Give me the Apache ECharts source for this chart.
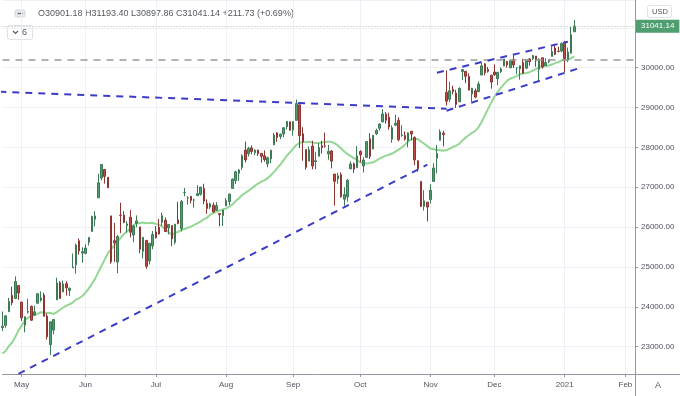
<!DOCTYPE html>
<html><head><meta charset="utf-8">
<script src="https://cdn.jsdelivr.net/npm/echarts@6/dist/echarts.min.js"></script>
<style>html,body{margin:0;padding:0;background:#fff}#c{width:680px;height:396px}</style>
</head><body><div id="c"></div>
<script>
// ---- trading days shown (Apr 23 2020 .. Jan 7 2021) ----
const dates = [
'2020-04-23','2020-04-24','2020-04-27','2020-04-28','2020-04-29','2020-04-30',
'2020-05-01','2020-05-04','2020-05-05','2020-05-06','2020-05-07','2020-05-08','2020-05-11','2020-05-12','2020-05-13','2020-05-14','2020-05-15','2020-05-18','2020-05-19','2020-05-20','2020-05-21','2020-05-22','2020-05-26','2020-05-27','2020-05-28','2020-05-29',
'2020-06-01','2020-06-02','2020-06-03','2020-06-04','2020-06-05','2020-06-08','2020-06-09','2020-06-10','2020-06-11','2020-06-12','2020-06-15','2020-06-16','2020-06-17','2020-06-18','2020-06-19','2020-06-22','2020-06-23','2020-06-24','2020-06-25','2020-06-26','2020-06-29','2020-06-30',
'2020-07-01','2020-07-02','2020-07-06','2020-07-07','2020-07-08','2020-07-09','2020-07-10','2020-07-13','2020-07-14','2020-07-15','2020-07-16','2020-07-17','2020-07-20','2020-07-21','2020-07-22','2020-07-23','2020-07-24','2020-07-27','2020-07-28','2020-07-29','2020-07-30','2020-07-31',
'2020-08-03','2020-08-04','2020-08-05','2020-08-06','2020-08-07','2020-08-10','2020-08-11','2020-08-12','2020-08-13','2020-08-14','2020-08-17','2020-08-18','2020-08-19','2020-08-20','2020-08-21','2020-08-24','2020-08-25','2020-08-26','2020-08-27','2020-08-28','2020-08-31',
'2020-09-01','2020-09-02','2020-09-03','2020-09-04','2020-09-08','2020-09-09','2020-09-10','2020-09-11','2020-09-14','2020-09-15','2020-09-16','2020-09-17','2020-09-18','2020-09-21','2020-09-22','2020-09-23','2020-09-24','2020-09-25','2020-09-28','2020-09-29','2020-09-30',
'2020-10-01','2020-10-02','2020-10-05','2020-10-06','2020-10-07','2020-10-08','2020-10-09','2020-10-12','2020-10-13','2020-10-14','2020-10-15','2020-10-16','2020-10-19','2020-10-20','2020-10-21','2020-10-22','2020-10-23','2020-10-26','2020-10-27','2020-10-28','2020-10-29','2020-10-30',
'2020-11-02','2020-11-03','2020-11-04','2020-11-05','2020-11-06','2020-11-09','2020-11-10','2020-11-11','2020-11-12','2020-11-13','2020-11-16','2020-11-17','2020-11-18','2020-11-19','2020-11-20','2020-11-23','2020-11-24','2020-11-25','2020-11-27','2020-11-30',
'2020-12-01','2020-12-02','2020-12-03','2020-12-04','2020-12-07','2020-12-08','2020-12-09','2020-12-10','2020-12-11','2020-12-14','2020-12-15','2020-12-16','2020-12-17','2020-12-18','2020-12-21','2020-12-22','2020-12-23','2020-12-24','2020-12-28','2020-12-29','2020-12-30','2020-12-31',
'2021-01-04','2021-01-05','2021-01-06','2021-01-07'];
// empty future slots on the time scale
const futureDates = ['2021-01-08','2021-01-11','2021-01-12','2021-01-13','2021-01-14','2021-01-15','2021-01-19','2021-01-20','2021-01-21','2021-01-22','2021-01-25','2021-01-26','2021-01-27','2021-01-28','2021-01-29','2021-02-01','2021-02-02','2021-02-03','2021-02-04'];

const open = [23475,23535,23876,24288,24207,24534,
24120,23544,23868,24011,23790,24090,24168,24294,23768,23050,23415,24174,24607,24372,24580,24409,24977,25055,25657,25350,
25342,25620,25892,26198,26736,27233,27447,27251,26282,25659,25123,26297,26300,26036,26248,25800,26092,26005,25393,25667,25153,25529,
25880,25998,26122,26171,25978,26040,25619,26182,25964,26867,26733,26773,26677,26790,26824,26971,26595,26502,26550,26422,26343,26291,
26532,26640,26972,27168,27351,27500,27933,27843,27988,27866,27933,27849,27788,27587,27711,28063,28363,28274,28338,28522,28643,
28439,28679,29068,28341,27945,27656,28032,27641,27778,28042,28034,27836,27910,27331,27208,27317,26700,26761,27461,27588,27491,
27898,27536,27750,28214,27959,28344,28481,28638,28835,28758,28204,28558,28678,28293,28296,28166,28405,28247,27664,27145,26516,26626,
26691,27146,27732,28178,28358,29380,29207,29460,29364,29144,29902,29910,29780,29341,29421,29398,29815,30096,29954,29812,
29891,29725,29900,30043,30150,29997,30207,29996,29968,30128,29988,30218,30223,30292,29960,30249,30054,30155,30283,30492,30415,30418,
30627,30204,30362,30901.18];
const high = [23883,23783,24226,24505,24764,24534,
24120,23756,24202,24032,24030,24334,24385,24353,23829,23626,23685,24730,24645,24658,24643,24485,25339,25585,25714,25493,
25572,25745,26286,26396,27339,27581,27447,27251,26282,26105,25805,26611,26400,26151,26429,26058,26295,26005,25747,25667,25596,25904,
26025,26204,26365,26244,26068,26040,26079,26636,26680,26983,26775,26779,26716,27054,27005,27087,26696,26617,26618,26628,26343,26429,
26727,26840,27225,27416,27455,27829,28146,28018,28050,27950,27943,27849,27924,27767,27939,28364,28385,28346,28502,28660,28643,
28659,29199,29068,28507,27945,28025,28166,27890,28108,28167,28371,28063,27932,27331,27365,27371,27000,27211,27649,27621,28029,
27925,27753,28162,28354,28303,28467,28604,28958,28882,28869,28552,28822,28755,28557,28400,28377,28410,28280,27683,27145,26928,26626,
27075,27602,28062,28452,28416,29933,29645,29551,29444,29509,29964,29910,29858,29494,29477,29657,30117,30116,30018,29813,
30082,29883,30006,30219,30174,30181,30319,30008,30048,30225,30200,30244,30322,30292,30232,30250,30237,30209,30526,30600,30525,30637,
30674,30504,31022,31193.40];
const low = [23391,23475,23876,24037,24207,24176,
23643,23361,23831,23652,23790,24090,24128,23763,23180,22790,23310,24174,24203,24372,24282,24275,24977,24833,25310,25106,
25316,25539,25892,26017,26736,27173,27092,26978,25082,25128,24843,25849,26097,25859,25745,25623,25995,25344,25214,24956,25064,25445,
25711,25816,26031,25886,25818,25524,25563,26072,25892,26773,26566,26597,26487,26790,26790,26578,26333,26449,26360,26407,26019,26029,
26532,26553,26972,27080,27160,27438,27625,27772,27832,27807,27785,27617,27641,27502,27605,28063,28141,28206,28249,28449,28421,
28295,28679,27990,27665,27441,27656,27450,27452,27778,27846,27994,27689,27473,26537,27087,26736,26537,26639,27461,27356,27491,
27624,27371,27750,27709,27959,28307,28420,28638,28597,28444,28116,28535,28152,28268,28171,28004,28178,27554,27390,26502,26417,26143,
26595,27146,27349,28178,28030,29050,29141,29331,28990,29144,29692,29609,29432,29143,29232,29398,29815,29807,29876,29472,
29792,29560,29867,30043,30003,29993,29993,29839,29700,29852,29963,30051,30190,30025,29666,29975,30054,30115,30283,30315,30385,30388,
29882,30141,30362,30897.86];
const close = [23515,23775,24134,24101,24634,24346,
23724,23750,23883,23664,23876,24331,24221,23764,23248,23625,23685,24597,24207,24576,24474,24465,24995,25548,25401,25383,
25475,25742,26270,26282,27111,27572,27273,26990,25128,25606,25763,26290,26120,26080,25871,26025,26156,25445,25745,25016,25596,25813,
25735,25827,26287,25890,26067,25706,26075,26086,26643,26870,26735,26672,26681,26840,27005,26652,26470,26585,26379,26540,26314,26428,
26664,26828,27201,27387,27433,27791,27687,27977,27896,27931,27844,27778,27692,27739,27930,28308,28248,28332,28492,28653,28430,
28645,29100,28292,28133,27500,27940,27535,27666,27993,27995,28032,27902,27657,27148,27288,26763,26815,27174,27584,27452,27782,
27817,27683,28149,27773,28303,28426,28587,28838,28680,28514,28494,28606,28195,28309,28211,28364,28336,27685,27463,26520,26659,26502,
26925,27481,27848,28390,28323,29158,29421,29398,29080,29480,29950,29784,29438,29483,29263,29592,30046,29873,29910,29639,
29824,29884,29970,30218,30070,30174,30068,29999,30046,29861,30200,30155,30304,30179,30216,30015,30129,30200,30404,30336,30409,30606,
30224,30392,30829,31041.14];
// moving average line (read per bar)
const ma = [22831,22892,23017,23105,23241,23411,23527,23662,23722,23772,23794,23825,23867,23857,23845,23849,23821,23868,23928,23983,
24031,24065,24108,24181,24219,24271,24358,24458,24577,24708,24870,25032,25185,25346,25440,25539,25643,25728,25823,25898,
25968,26046,26104,26099,26116,26098,26104,26108,26081,26058,26017,25933,25873,25808,25856,25880,25924,25953,25983,26013,
26054,26094,26137,26197,26233,26312,26351,26387,26416,26446,26465,26512,26569,26653,26721,26806,26858,26913,26972,27034,
27093,27140,27174,27228,27301,27387,27481,27570,27679,27791,27879,27970,28065,28110,28145,28130,28143,28121,28109,28113,
28120,28133,28143,28139,28100,28049,27975,27899,27833,27780,27731,27688,27623,27593,27594,27607,27626,27670,27716,27758,
27793,27817,27846,27894,27946,27997,28070,28147,28205,28210,28211,28148,28090,28031,27970,27955,27932,27930,27917,27933,
27970,28014,28044,28087,28175,28249,28310,28366,28413,28508,28637,28805,28967,29124,29269,29389,29495,29587,29674,29725,
29757,29787,29836,29855,29867,29886,29929,29964,30011,30033,30037,30053,30078,30113,30142,30178,30191,30199,30237,30281];

// drawn trend lines: [bar index, price]
const resistanceLine = [[-0.78, 29398], [139, 28971]];
const supportLine = [[5, 22320], [133, 27566]];
const channelTop = [[136, 29875], [177, 30652]];
const channelBottom = [[139, 28921], [181, 30000]];
const horizontalLevel = 30190;
const lastPrice = 31041.14;

const monthLabels = {'2020-05-01':'May','2020-06-01':'Jun','2020-07-01':'Jul','2020-08-03':'Aug','2020-09-01':'Sep',
  '2020-10-01':'Oct','2020-11-02':'Nov','2020-12-01':'Dec','2021-01-04':'2021','2021-02-01':'Feb'};
const legendText = 'O30901.18 H31193.40 L30897.86 C31041.14 +211.73 (+0.69%)';

const FONT = 'Liberation Sans, Arial, sans-serif';
const allDates = dates.concat(futureDates);
const candles = dates.map((d, i) => [open[i], close[i], low[i], high[i]]);
const isMonth = (i, v) => monthLabels[v] !== undefined;
const trend = (d) => ({
  type: 'line', data: d, symbol: 'none', clip: false, z: 5, silent: true,
  lineStyle: { color: '#3c3cc8', width: 2, type: [7, 6] }
});

const chart = echarts.init(document.getElementById('c'), null, { renderer: 'canvas' });
chart.setOption({
  animation: false,
  backgroundColor: '#ffffff',
  textStyle: { fontFamily: FONT },
  grid: { left: 2.5, right: 45, top: 0, bottom: 22, containLabel: false },
  xAxis: {
    type: 'category', data: allDates, boundaryGap: false,
    axisLine: { show: true, lineStyle: { color: '#9598a1', width: 1 } },
    axisTick: { show: true, interval: isMonth, length: 3, lineStyle: { color: '#9598a1' } },
    axisLabel: { interval: isMonth, formatter: v => monthLabels[v] || '', fontSize: 8, color: '#50535e', margin: 7, fontFamily: FONT },
    splitLine: { show: true, interval: isMonth, lineStyle: { color: '#eef0f5', width: 1 } }
  },
  yAxis: {
    type: 'value', position: 'right', min: 22315, max: 31698, splitNumber: 9,
    axisLine: { show: true, lineStyle: { color: '#9598a1', width: 1 } },
    axisTick: { show: true, length: 3, lineStyle: { color: '#9598a1' } },
    axisLabel: { formatter: v => v.toFixed(2), showMinLabel: false, showMaxLabel: false, fontSize: 8, color: '#50535e', margin: 6, fontFamily: FONT },
    splitLine: { show: true, lineStyle: { color: '#eef0f5', width: 1 } }
  },
  series: [
    { type: 'line', data: ma, symbol: 'none', z: 2, silent: true, smooth: false,
      lineStyle: { color: '#94d794', width: 2 } },
    { type: 'candlestick', data: candles, barWidth: 2, z: 3, clip: false,
      itemStyle: { color: '#4f9e70', color0: '#c04a44', borderColor: '#3b7a55', borderColor0: '#8c3632', borderWidth: 1 },
      markLine: {
        symbol: 'none', silent: true, animation: false,
        data: [
          { yAxis: horizontalLevel, lineStyle: { color: '#9a9a9a', width: 1.5, type: [7, 6] }, label: { show: false } },
          { yAxis: lastPrice, lineStyle: { color: '#a9b4ad', width: 1, type: [1, 2] },
            label: { show: true, position: 'end', distance: 1, formatter: '31041.14', color: '#ffffff', fontSize: 8,
              backgroundColor: '#4f9e70', padding: [3, 5, 2, 5], fontFamily: FONT } }
        ]
      }
    },
    trend(resistanceLine), trend(supportLine), trend(channelTop), trend(channelBottom)
  ],
  graphic: [
    { type: 'rect', shape: { x: 15, y: 10, width: 10, height: 7, r: 1.5 }, style: { fill: '#e9ebf0', stroke: '#c8cbd3', lineWidth: 0.8 } },
    { type: 'rect', shape: { x: 17.5, y: 12.8, width: 5, height: 1.4 }, style: { fill: '#6b6e78' } },
    { type: 'text', left: 38, top: 9, style: { text: legendText, fontSize: 9, fill: '#55585f', fontFamily: FONT } },
    { type: 'rect', shape: { x: 7.5, y: 25.5, width: 25, height: 14, r: 2 }, style: { fill: '#ffffff', stroke: '#dfe2e8', lineWidth: 1 } },
    { type: 'polyline', shape: { points: [[13, 31], [15.5, 33.5], [18, 31]] }, style: { stroke: '#55585f', fill: null, lineWidth: 1.1 } },
    { type: 'text', left: 22, top: 28, style: { text: '6', fontSize: 9, fill: '#55585f', fontFamily: FONT } },
    { type: 'rect', shape: { x: 647.5, y: 5.5, width: 24, height: 12, r: 2 }, style: { fill: '#ffffff', stroke: '#dfe2e8', lineWidth: 1 } },
    { type: 'text', left: 652, top: 8, style: { text: 'USD', fontSize: 7.5, fill: '#55585f', fontFamily: FONT } },
    { type: 'line', shape: { x1: 635.5, y1: 374, x2: 635.5, y2: 396 }, style: { stroke: '#9598a1', lineWidth: 1 } },
    { type: 'line', shape: { x1: 635, y1: 374.5, x2: 680, y2: 374.5 }, style: { stroke: '#9598a1', lineWidth: 1 } },
    { type: 'text', left: 655, top: 381, style: { text: 'A', fontSize: 9, fill: '#55585f', fontFamily: FONT } }
  ]
});
</script></body></html>
